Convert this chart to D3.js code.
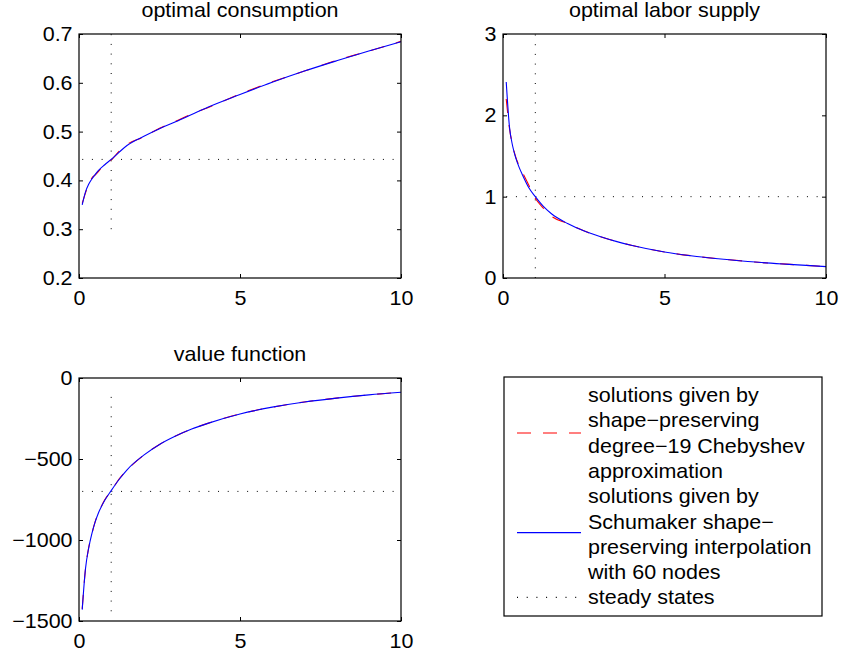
<!DOCTYPE html>
<html>
<head>
<meta charset="utf-8">
<script src="https://cdn.jsdelivr.net/npm/d3@7"></script>
<style>
	body { margin: 0; background: #fff; }
	text { font-family: 'Liberation Sans', Arial, Helvetica, sans-serif; }
</style>
</head>
<body>
<svg class="chart" width="841" height="653"></svg>
<script>
/** DATA **/
// capital grid the curves were read on
let kGrid = [0.1, 0.2, 0.3, 0.4, 0.5, 0.6, 0.8, 1, 1.25, 1.5, 2, 2.5, 3, 3.5, 4, 5, 6, 7, 8, 9, 10];

// optimal consumption
let consSchumaker = [0.350, 0.376, 0.392, 0.403, 0.412, 0.420, 0.432, 0.443, 0.458, 0.472, 0.490, 0.506, 0.520, 0.535, 0.550, 0.576, 0.601, 0.624, 0.645, 0.665, 0.684];
let consCheb = [0.353, 0.374, 0.393, 0.405, 0.411, 0.418, 0.434, 0.442, 0.460, 0.474, 0.489, 0.507, 0.521, 0.536, 0.549, 0.577, 0.602, 0.624, 0.646, 0.665, 0.685];

// optimal labor supply
let laborSchumaker = [2.41, 1.86, 1.62, 1.47, 1.36, 1.27, 1.11, 1.00, 0.88, 0.79, 0.67, 0.58, 0.51, 0.45, 0.40, 0.32, 0.265, 0.225, 0.19, 0.165, 0.14];
let laborCheb = [2.20, 1.84, 1.63, 1.48, 1.38, 1.30, 1.14, 0.98, 0.86, 0.76, 0.67, 0.58, 0.51, 0.45, 0.40, 0.32, 0.265, 0.225, 0.19, 0.165, 0.14];

// value function
let valueSchumaker = [-1430, -1180, -1050, -960, -890, -835, -755, -695, -625, -565, -478, -410, -358, -315, -280, -222, -180, -148, -124, -104, -88];
let valueCheb = [-1425, -1182, -1048, -962, -888, -836, -752, -697, -622, -566, -478, -410, -358, -315, -280, -222, -180, -148, -124, -104, -88];

// steady states
let steadyK = 1;
let steadyCons = 0.443;
let steadyLabor = 1.0;
let steadyValue = -700;
let steadyKRange = [0.1, 10];
let consSteadyRange = [0.3, 0.7];
let laborSteadyRange = [0, 3];
let valueSteadyRange = [-1440, -110];

// ticks
let xTicks = [0, 5, 10];
let consTicks = [0.2, 0.3, 0.4, 0.5, 0.6, 0.7];
let laborTicks = [0, 1, 2, 3];
let valueTicks = [-1500, -1000, -500, 0];

let legendLabels = [
	['solutions given by', 'shape\u2212preserving', 'degree\u221219 Chebyshev', 'approximation'],
	['solutions given by', 'Schumaker shape\u2212', 'preserving interpolation', 'with 60 nodes'],
	['steady states']
];

/** CONSTANTS **/
let colors = { cheb: '#ff0000', schu: '#0000ff', steady: '#000' };
let fontSize = 20;
let stretch = 'scale(1.075,1)';
let dashCheb = '14,12';
let dashSteady = '1,8.7';

let svg = d3.select('.chart');

// draw one subplot
function createPanel(opts) {
	let w = opts.width, h = opts.height;
	let x = d3.scaleLinear().domain([0, 10]).range([0, w]);
	let y = d3.scaleLinear().domain(opts.yDomain).range([h, 0]);
	let g = svg.append('g').attr('transform', 'translate(' + opts.left + ',' + opts.top + ')');

	// title
	g.append('text')
		.attr('transform', 'translate(' + (w / 2) + ',-17) ' + stretch)
		.attr('text-anchor', 'middle')
		.style('font-size', fontSize + 'px')
		.text(opts.title);

	let line = d3.line()
		.x(function(d) { return x(d[0]); })
		.y(function(d) { return y(d[1]); })
		.curve(d3.curveMonotoneX);

	// steady state guides
	g.append('path')
		.attr('d', line([[steadyK, opts.steadyRange[0]], [steadyK, opts.steadyRange[1]]]))
		.attr('fill', 'none')
		.attr('stroke', colors.steady)
		.attr('stroke-width', 1)
		.attr('stroke-dasharray', dashSteady);
	g.append('path')
		.attr('d', d3.line()([[x(steadyKRange[0]), y(opts.steady)], [x(steadyKRange[1]), y(opts.steady)]]))
		.attr('fill', 'none')
		.attr('stroke', colors.steady)
		.attr('stroke-width', 1)
		.attr('stroke-dasharray', dashSteady);

	// chebyshev (dashed) under schumaker (solid)
	g.append('path')
		.attr('d', line(d3.zip(kGrid, opts.cheb)))
		.attr('fill', 'none')
		.attr('stroke', colors.cheb)
		.attr('stroke-width', 1.1)
		.attr('stroke-dasharray', dashCheb);
	g.append('path')
		.attr('d', line(d3.zip(kGrid, opts.schu)))
		.attr('fill', 'none')
		.attr('stroke', colors.schu)
		.attr('stroke-width', 1.1);

	// axes, ticks pointing inward like matlab
	g.append('g')
		.attr('transform', 'translate(0,' + h + ')')
		.call(d3.axisBottom(x).tickValues(xTicks).tickFormat(d3.format('d')).tickSizeInner(-4).tickSizeOuter(0).tickPadding(13));
	g.append('g')
		.call(d3.axisTop(x).tickValues(xTicks).tickFormat('').tickSizeInner(-4).tickSizeOuter(0));
	g.append('g')
		.call(d3.axisLeft(y).tickValues(opts.ticks).tickFormat(opts.format).tickSizeInner(-4).tickSizeOuter(0).tickPadding(6));
	g.append('g')
		.attr('transform', 'translate(' + w + ',0)')
		.call(d3.axisRight(y).tickValues(opts.ticks).tickFormat('').tickSizeInner(-4).tickSizeOuter(0));

	g.selectAll('.domain').remove();
	g.selectAll('.tick line').attr('stroke', '#000');
	g.selectAll('.tick text')
		.attr('fill', '#000')
		.attr('transform', stretch)
		.style('font-size', fontSize + 'px')
		.style('font-family', "'Liberation Sans', Arial, sans-serif");

	// box
	g.append('rect')
		.attr('width', w)
		.attr('height', h)
		.attr('fill', 'none')
		.attr('stroke', '#000')
		.attr('stroke-width', 1.2);
}

function createLegend(left, top, w, h) {
	let g = svg.append('g').attr('transform', 'translate(' + left + ',' + top + ')');
	g.append('rect')
		.attr('width', w)
		.attr('height', h)
		.attr('fill', '#fff')
		.attr('stroke', '#000')
		.attr('stroke-width', 1.2);

	let lineH = 25.3;
	let row = 0;
	let styles = [
		{ color: colors.cheb, dash: dashCheb },
		{ color: colors.schu, dash: null },
		{ color: colors.steady, dash: dashSteady }
	];
	legendLabels.forEach(function(lines, i) {
		let first = row;
		lines.forEach(function(t) {
			g.append('text')
				.attr('transform', 'translate(84,' + (25 + row * lineH) + ') ' + stretch)
				.style('font-size', fontSize + 'px')
				.text(t);
			row++;
		});
		let mid = 18 + ((first + row - 1) / 2) * lineH;
		g.append('line')
			.attr('x1', 13)
			.attr('x2', 77)
			.attr('y1', mid - (i === 1 ? 1.5 : 0))
			.attr('y2', mid - (i === 1 ? 1.5 : 0))
			.attr('stroke', styles[i].color)
			.attr('stroke-width', 1.1)
			.attr('stroke-dasharray', styles[i].dash);
	});
}

createPanel({
	title: 'optimal consumption', left: 79, top: 34, width: 322, height: 244,
	yDomain: [0.2, 0.7], ticks: consTicks, format: d3.format('.1f'),
	schu: consSchumaker, cheb: consCheb, steady: steadyCons, steadyRange: consSteadyRange
});
createPanel({
	title: 'optimal labor supply', left: 503, top: 34, width: 323, height: 244,
	yDomain: [0, 3], ticks: laborTicks, format: d3.format('d'),
	schu: laborSchumaker, cheb: laborCheb, steady: steadyLabor, steadyRange: laborSteadyRange
});
createPanel({
	title: 'value function', left: 79, top: 378, width: 322, height: 243,
	yDomain: [-1500, 0], ticks: valueTicks, format: d3.format('d'),
	schu: valueSchumaker, cheb: valueCheb, steady: steadyValue, steadyRange: valueSteadyRange
});
createLegend(504, 377, 318, 239);
</script>
</body>
</html>
